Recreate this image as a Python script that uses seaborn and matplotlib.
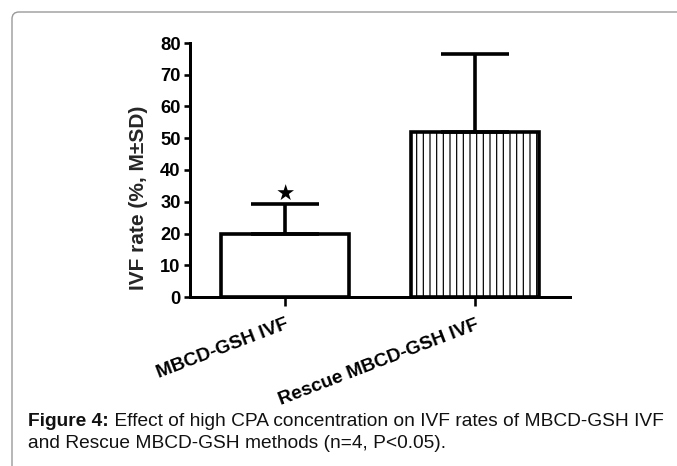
import matplotlib
matplotlib.use("Agg")
import matplotlib.pyplot as plt
import seaborn as sns
import pandas as pd
import numpy as np
from matplotlib.patches import FancyBboxPatch
from matplotlib.transforms import IdentityTransform

# ---- data ----
categories = ["MBCD-GSH IVF", "Rescue MBCD-GSH IVF"]
means = [20.0, 52.0]
sds = [9.3, 24.4]
yticks = [0, 10, 20, 30, 40, 50, 60, 70, 80]
ylabel = "IVF rate (%, M\u00b1SD)"
caption_bold = "Figure 4:"
caption_rest1 = " Effect of high CPA concentration on IVF rates of MBCD-GSH IVF"
caption_line2 = "and Rescue MBCD-GSH methods (n=4, P<0.05)."
star_value = 32.0

DPI = 120
PT = DPI / 72.0  # px per pt

sns.set_theme(style="ticks")
plt.rcParams['font.family'] = ['Liberation Sans', 'DejaVu Sans']
plt.rcParams['hatch.linewidth'] = 1.0 / PT * 1.2
plt.rcParams['hatch.color'] = '#333333'

fig = plt.figure(figsize=(677 / DPI, 466 / DPI), dpi=DPI)
fig.patch.set_facecolor("white")

ax = fig.add_axes([190 / 677, 1 - 297 / 466, (570 - 190) / 677, (297 - 43) / 466])

df = pd.DataFrame({"group": categories, "value": means})
sns.barplot(data=df, x="group", y="value", ax=ax, width=0.67,
            color="white", edgecolor="black", linewidth=3.6 / PT,
            errorbar=None)
ax.patches[1].set_hatch("|||")
for p in ax.patches:
    p.set_facecolor("white")
    p.set_edgecolor("black")

xpos = np.arange(len(categories))
ax.errorbar(xpos, means, yerr=[np.zeros(len(sds)), sds], fmt="none",
            ecolor="black", elinewidth=3.6 / PT, capsize=34 / PT,
            capthick=3.6 / PT, zorder=1)

ax.text(0, star_value, "\u2605", ha="center", va="center",
        fontsize=13, color="black", family=["DejaVu Sans"])

ax.set_xlim(-0.5, 1.5)
ax.set_ylim(0, 80)
ax.set_yticks(yticks)
ax.set_yticklabels([str(t) for t in yticks], fontsize=11, fontweight="bold")
ax.set_xticks(xpos)
ax.set_xticklabels(categories, rotation=21, ha="right", rotation_mode="anchor",
                   fontsize=11.5, fontweight="bold")
ax.set_xlabel("")
ax.set_ylabel(ylabel, fontsize=12.5, fontweight="bold")
ax.yaxis.set_label_coords(-0.11, 0.39)

sns.despine(ax=ax)
for s in ["left", "bottom"]:
    ax.spines[s].set_linewidth(3.0 / PT)
    ax.spines[s].set_color("black")
ax.tick_params(axis="y", length=6 / PT, width=2.6 / PT, pad=2, colors="black")
ax.tick_params(axis="x", length=9 / PT, width=2.6 / PT, pad=6, colors="black")
ax.set_facecolor("none")

# frame
frame = FancyBboxPatch((12, -30), 720, 466 - 12 + 30,
                       boxstyle="round,pad=0,rounding_size=7",
                       transform=IdentityTransform(), facecolor="none",
                       edgecolor="#9a9a9a", linewidth=1.4 / PT, zorder=0)
fig.patches.append(frame)

# caption
x0 = 28 / 677
t1 = fig.text(x0, 1 - 421 / 466, caption_bold, fontsize=11.5, fontweight="bold",
              va="center", ha="left", color="#111111")
fig.canvas.draw()
bb = t1.get_window_extent(renderer=fig.canvas.get_renderer())
fig.text(bb.x1 / (677), 1 - 421 / 466, caption_rest1, fontsize=11.5,
         va="center", ha="left", color="#111111")
fig.text(x0, 1 - 443 / 466, caption_line2, fontsize=11.5,
         va="center", ha="left", color="#111111")

fig.savefig("out.png", dpi=DPI)
